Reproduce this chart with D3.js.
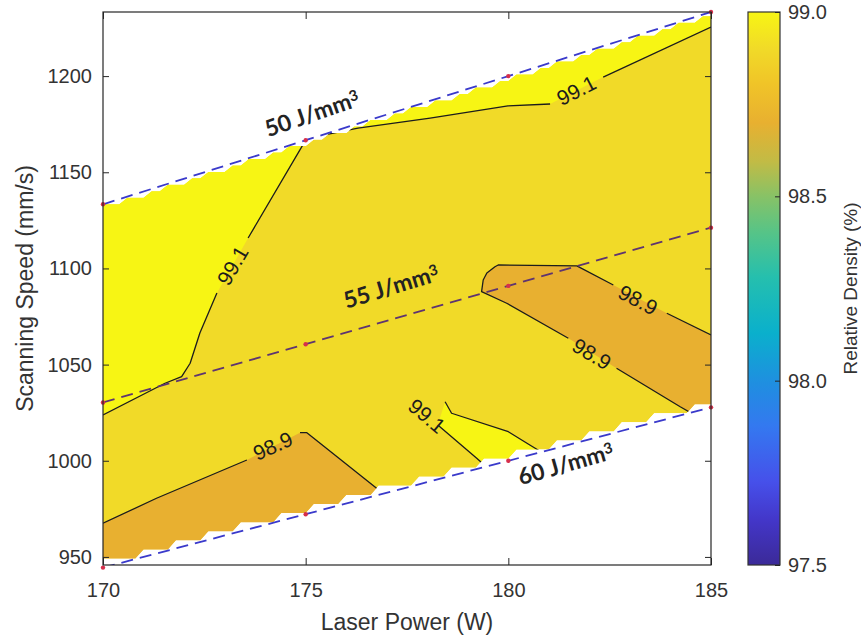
<!DOCTYPE html>
<html>
<head>
<meta charset="utf-8">
<script src="https://cdn.jsdelivr.net/npm/d3@7"></script>
<style>
  body { margin: 0; background: #fff; }
  svg { display: block; }
  text { font-family: "Liberation Sans", Arial, Helvetica, sans-serif; }
</style>
</head>
<body>
<svg id="chart" width="861" height="636"></svg>
<script>
// ---- Process parameters ---------------------------------------------------
const power = [170, 175, 180, 185];          // laser power (W)
const energy = [50, 55, 60];                 // volumetric energy density (J/mm^3)
const hatch = 0.1, layer = 0.03;             // hatch spacing and layer thickness (mm)

// ---- Axis ticks ------------------------------------------------------------
const xTicks = [170, 175, 180, 185];
const yTicks = [950, 1000, 1050, 1100, 1150, 1200];
const cbTicks = [97.5, 98.0, 98.5, 99.0];
const colourRange = [97.5, 99.0];

// ---- Filled density bands, outlines in (power W, speed mm/s) ---------------
// each band is labelled by its lower contour level
const bandHigh = [ // > 99.1 %
  [170, 1240], [185, 1240], [185, 1225.5], [182.34, 1199.5], [181.03, 1185.5],
  [179.99, 1184.5], [178.07, 1178.2], [176.29, 1173.0], [175.35, 1168.9],
  [175, 1166.7], [173.58, 1115.8], [172.81, 1087.2], [172.39, 1066.4],
  [172.15, 1050.7], [171.94, 1043.7], [171.53, 1040.3], [170, 1023.8]
];
const bandHighSouth = [ // > 99.1 %
  [179.6, 994.2], [179.22, 1001.3], [178.26, 1018.6], [178.44, 1030.7],
  [178.6, 1024.7], [180.0, 1015.1], [180.53, 1008.2], [181.08, 1001.2],
  [181.08, 985], [179.6, 985]
];
const bandLowWest = [ // < 98.9 %
  [170, 967.5], [171.32, 980.5], [173.55, 1000.4], [174.86, 1014.6],
  [175.03, 1014.6], [176.75, 985.7], [177.13, 979.6], [177.13, 935], [170, 935]
];
const bandLowEast = [ // < 98.9 %
  [179.34, 1087.9], [179.38, 1094.0], [179.47, 1097.6], [179.67, 1100.9],
  [179.75, 1101.8], [181.69, 1101.3], [182.59, 1091.4], [183.91, 1076.7],
  [185, 1065.4], [185, 1015], [184.73, 1022.2], [184.24, 1028.1],
  [182.67, 1048.1], [181.48, 1063.7], [179.96, 1081.9]
];
const bands = [
  { level: 99.1, outline: bandHigh },
  { level: 99.1, outline: bandHighSouth },
  { level: 98.7, outline: bandLowWest },
  { level: 98.7, outline: bandLowEast }
];
const baseLevel = 98.9;

// ---- Contour lines (broken where the level label sits) ---------------------
const contours = [
  { level: 99.1, segments: [
    [[170, 1023.8], [171.53, 1040.3], [171.94, 1043.7], [172.15, 1050.7], [172.39, 1066.4], [172.81, 1087.2]],
    [[173.58, 1115.8], [175, 1166.7], [175.35, 1168.9], [176.29, 1173.0], [178.07, 1178.2], [179.99, 1184.5], [181.03, 1185.5]],
    [[182.34, 1199.5], [185, 1225.5]]
  ]},
  { level: 99.1, segments: [
    [[179.6, 994.2], [179.22, 1001.3], [178.26, 1018.6]],
    [[178.44, 1030.7], [178.6, 1024.7], [180.0, 1015.1], [180.53, 1008.2], [181.08, 1001.2]]
  ]},
  { level: 98.9, segments: [
    [[170, 967.5], [171.32, 980.5], [173.55, 1000.4]],
    [[174.86, 1014.6], [175.03, 1014.6], [176.75, 985.7], [177.13, 979.6]]
  ]},
  { level: 98.9, segments: [
    [[182.59, 1091.4], [181.69, 1101.3], [179.75, 1101.8], [179.67, 1100.9], [179.47, 1097.6],
     [179.38, 1094.0], [179.34, 1087.9], [179.96, 1081.9], [181.48, 1063.7]],
    [[183.91, 1076.7], [185, 1065.4]],
    [[182.67, 1048.1], [184.24, 1028.1], [184.73, 1022.2]]
  ]}
];
const contourLabels = [
  { level: 99.1, P: 173.2,  v: 1101.5, angle: -60 },
  { level: 99.1, P: 181.68, v: 1192.5, angle: -27 },
  { level: 99.1, P: 177.99, v: 1023.3, angle: 40 },
  { level: 98.9, P: 174.19, v: 1007.7, angle: -24 },
  { level: 98.9, P: 183.2,  v: 1083.6, angle: 28 },
  { level: 98.9, P: 182.06, v: 1055.5, angle: 31 }
];

// ---- Energy density annotations --------------------------------------------
const energyLabels = [
  { E: 50, P: 175.16, v: 1180.5, angle: -19 },
  { E: 55, P: 177.11, v: 1090.5, angle: -17 },
  { E: 60, P: 181.42, v: 998.3,  angle: -16 }
];
const energyColours = { 50: "#3a3acb", 55: "#5e3470", 60: "#3a3acb" };

// ---- Colour map (parula-like) ----------------------------------------------
const cmapStops = [
  [0.00, "#3b2a98"], [0.08, "#4336c8"], [0.15, "#4650ea"], [0.25, "#3478f0"],
  [0.33, "#1f8fe0"], [0.42, "#0ab0cc"], [0.52, "#25bfae"], [0.60, "#55c488"],
  [0.667, "#88c266"], [0.73, "#c2bb45"], [0.80, "#e8b030"], [0.87, "#f0c428"],
  [0.933, "#f1da28"], [1.00, "#f7f514"]
];

// ---- Layout -----------------------------------------------------------------
const plot = { left: 103, right: 711, top: 12, bottom: 565 };
const cbar = { left: 748, right: 780 };

const svg = d3.select("#chart");
const x = d3.scaleLinear([170, 185], [plot.left, plot.right]);
const y = d3.scaleLinear([945.8, 1233.33], [plot.bottom, plot.top]);
const unit = d3.scaleLinear(colourRange, [0, 1]).clamp(true);
const cmap = d3.scaleLinear(cmapStops.map(d => d[0]), cmapStops.map(d => d[1]))
  .interpolate(d3.interpolateRgb).clamp(true);
const colour = v => cmap(unit(v));

const speed = (P, E) => P / (E * hatch * layer);

// valid process window as sampled on the interpolation grid (stepped edges)
const vMin = speed(power[0], energy[2]);
const vMax = speed(power[0], energy[0]);
const dvTop = (vMax - vMin) / 56, dvBot = (vMax - vMin) / 40;
const dP = 0.2;
const cols = d3.range(power[0], power[power.length - 1] + 1e-9, dP);
const topEdge = cols.map(P => [P, vMax - dvTop * Math.ceil((vMax - speed(P, energy[0])) / dvTop - 1e-6)]);
const botEdge = cols.map(P => [P, vMin + dvBot * (Math.floor((speed(P, energy[2]) - vMin) / dvBot + 1e-6) + 1)]);
const windowOutline = topEdge.concat(botEdge.slice().reverse());

const line = d3.line().x(d => x(d[0])).y(d => y(d[1]));
const area = pts => line(pts) + "Z";

const defs = svg.append("defs");
defs.append("clipPath").attr("id", "window")
  .append("path").attr("d", area(windowOutline));
defs.append("clipPath").attr("id", "plotArea")
  .append("rect").attr("x", plot.left).attr("y", plot.top)
  .attr("width", plot.right - plot.left).attr("height", plot.bottom - plot.top);

// ---- Filled contours ---------------------------------------------------------
const fill = svg.append("g").attr("clip-path", "url(#window)");
fill.append("path").attr("d", area(windowOutline)).attr("fill", colour(baseLevel));
fill.selectAll("path.band").data(bands).join("path")
  .attr("class", "band")
  .attr("d", d => area(d.outline))
  .attr("fill", d => colour(d.level));

// contour lines
const lines = svg.append("g").attr("clip-path", "url(#window)");
contours.forEach(c => {
  lines.selectAll(null).data(c.segments).join("path")
    .attr("d", d => line(d))
    .attr("fill", "none").attr("stroke", "#1c1c1c").attr("stroke-width", 1.3)
    .attr("stroke-linejoin", "round");
});

// contour level labels
svg.append("g").selectAll("text").data(contourLabels).join("text")
  .attr("transform", d => `translate(${x(d.P)},${y(d.v)}) rotate(${d.angle})`)
  .attr("text-anchor", "middle").attr("dy", "0.35em")
  .attr("font-size", 21).attr("fill", "#1c1c1c")
  .text(d => d.level.toFixed(1));

// ---- Iso-energy lines and measured points ------------------------------------
const eg = svg.append("g").attr("clip-path", "url(#plotArea)");
energy.forEach(E => {
  const pts = power.map(P => [P, speed(P, E)]);
  eg.append("path").attr("d", line(pts))
    .attr("fill", "none").attr("stroke", energyColours[E])
    .attr("stroke-width", 1.8).attr("stroke-dasharray", "12,7");
});
const nodes = energy.flatMap(E => power.map(P => ({ P, E })));
svg.append("g").selectAll("circle").data(nodes).join("circle")
  .attr("cx", d => x(d.P)).attr("cy", d => y(speed(d.P, d.E)))
  .attr("r", 2.2).attr("fill", "#d62f4b");

const eLabels = svg.append("g").selectAll("text").data(energyLabels).join("text")
  .attr("transform", d => `translate(${x(d.P)},${y(d.v)}) rotate(${d.angle})`)
  .attr("text-anchor", "middle").attr("dy", "0.35em")
  .style("font-family", "Lato, 'Open Sans', sans-serif")
  .attr("font-weight", 700).attr("font-size", 23).attr("fill", "#232323")
  .text(d => `${d.E} J/mm`);
eLabels.append("tspan").attr("dy", "-0.42em").attr("font-size", 15).text("3");

// ---- Axes ----------------------------------------------------------------------
const axisColour = "#262626";
function styleAxis(g) {
  g.select(".domain").remove();
  g.selectAll("line").attr("stroke", axisColour);
  g.selectAll("text").attr("fill", "#333").attr("font-size", 20);
}
svg.append("g").attr("transform", `translate(0,${plot.bottom})`)
  .call(d3.axisBottom(x).tickValues(xTicks).tickFormat(d3.format("d"))
    .tickSizeInner(-7).tickSizeOuter(0).tickPadding(18))
  .call(styleAxis);
svg.append("g").attr("transform", `translate(${plot.left},0)`)
  .call(d3.axisLeft(y).tickValues(yTicks).tickFormat(d3.format("d"))
    .tickSizeInner(-6).tickSizeOuter(0).tickPadding(11))
  .call(styleAxis);
svg.append("g").attr("transform", `translate(0,${plot.top})`)
  .call(d3.axisTop(x).tickValues(xTicks).tickFormat("")
    .tickSizeInner(-7).tickSizeOuter(0))
  .call(styleAxis);
svg.append("g").attr("transform", `translate(${plot.right},0)`)
  .call(d3.axisRight(y).tickValues(yTicks).tickFormat("")
    .tickSizeInner(-6).tickSizeOuter(0))
  .call(styleAxis);
svg.append("rect")
  .attr("x", plot.left).attr("y", plot.top)
  .attr("width", plot.right - plot.left).attr("height", plot.bottom - plot.top)
  .attr("fill", "none").attr("stroke", axisColour).attr("stroke-width", 1.2);

svg.append("text")
  .attr("x", (plot.left + plot.right) / 2).attr("y", 622).attr("dy", "0.35em")
  .attr("text-anchor", "middle").attr("font-size", 23).attr("fill", "#333")
  .text("Laser Power (W)");
svg.append("text")
  .attr("transform", `translate(25,${(plot.top + plot.bottom) / 2}) rotate(-90)`)
  .attr("dy", "0.35em").attr("text-anchor", "middle")
  .attr("font-size", 23).attr("fill", "#333")
  .text("Scanning Speed (mm/s)");

// ---- Colour bar ----------------------------------------------------------------
const cbScale = d3.scaleLinear(colourRange, [plot.bottom, plot.top]);
const grad = defs.append("linearGradient").attr("id", "cbGrad")
  .attr("x1", 0).attr("y1", 1).attr("x2", 0).attr("y2", 0);
grad.selectAll("stop").data(cmapStops).join("stop")
  .attr("offset", d => d[0]).attr("stop-color", d => d[1]);
svg.append("rect")
  .attr("x", cbar.left).attr("y", plot.top)
  .attr("width", cbar.right - cbar.left).attr("height", plot.bottom - plot.top)
  .attr("fill", "url(#cbGrad)").attr("stroke", "#333").attr("stroke-width", 1.2);
svg.append("g").attr("transform", `translate(${cbar.right},0)`)
  .call(d3.axisRight(cbScale).tickValues(cbTicks).tickFormat(d3.format(".1f"))
    .tickSizeInner(-5).tickSizeOuter(0).tickPadding(8))
  .call(styleAxis);
svg.append("text")
  .attr("transform", `translate(850,${(plot.top + plot.bottom) / 2}) rotate(-90)`)
  .attr("dy", "0.35em").attr("text-anchor", "middle")
  .attr("font-size", 19).attr("fill", "#333")
  .text("Relative Density (%)");
</script>
</body>
</html>
